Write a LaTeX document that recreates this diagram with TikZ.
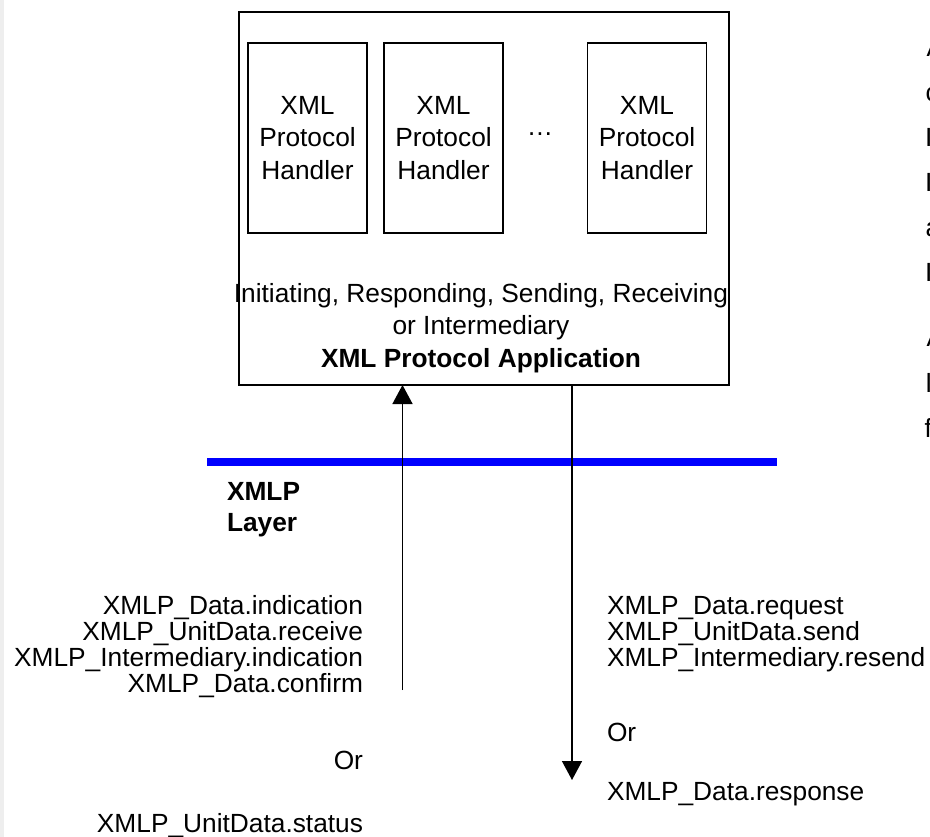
\documentclass[tikz,border=0pt]{standalone}
\usepackage{fontspec}
\setmainfont{Liberation Sans}
\usetikzlibrary{arrows.meta}
\definecolor{layerblue}{RGB}{0,0,255}
\definecolor{edgegray}{RGB}{238,238,238}
\begin{document}
\begin{tikzpicture}[x=1pt,y=-1pt,
  every node/.style={inner sep=0pt, outer sep=0pt, font=\fontsize{26.3}{26}\selectfont},
  frame/.style={draw=black, line width=1.6pt},
  handler/.style={frame, minimum width=119pt, minimum height=190pt, align=center,
                  font=\fontsize{26.3}{32.5}\selectfont},
  conn/.style={draw=black, line width=1.5pt, -{Triangle[width=20pt,length=19pt]}},
  leftlbl/.style={anchor=base east},
  rightlbl/.style={anchor=base west},
  midline/.style={anchor=base},
  cutoff/.style={anchor=base west},
  boldtext/.style={font=\fontsize{26.3}{26}\selectfont\bfseries},
]
\useasboundingbox (0,0) rectangle (930,837);
\fill[edgegray] (0,0) rectangle (4,837);

% application frame and its protocol handlers
\node[frame, minimum width=490pt, minimum height=373pt, anchor=north west] (app) at (239,12) {};
\node[handler, anchor=north west] (h1) at (248,43) {XML\\Protocol\\Handler};
\node[handler, anchor=north west] (h2) at (384,43) {XML\\Protocol\\Handler};
\node[handler, anchor=north west] (h3) at (587.5,43) {XML\\Protocol\\Handler};
\node[midline] (dots) at (540,136) {…};

\node[midline] (role1) at (481,303) {Initiating, Responding, Sending, Receiving};
\node[midline] (role2) at (481,335) {or Intermediary};
\node[midline, boldtext] (role3) at (481,367) {XML Protocol Application};

% layer boundary
\coordinate (layerL) at (207,462);
\coordinate (layerR) at (777,462);
\draw[layerblue, line width=8pt] (layerL) -- (layerR);
\node[anchor=base west, boldtext] (xmlp) at (227,500) {XMLP};
\node[anchor=base west, boldtext] (layer) at (227,531) {Layer};

% primitives crossing the layer
\coordinate (upfoot) at (402.5,690);
\coordinate (downtip) at (572,780);
\draw[conn] (upfoot) -- (app.south -| upfoot);
\draw[conn] (app.south -| downtip) -- (downtip);

% upward primitives
\node[leftlbl] (u1) at (363,614) {XMLP\_Data.indication};
\node[leftlbl] (u2) at (363,640) {XMLP\_UnitData.receive};
\node[leftlbl] (u3) at (363,666) {XMLP\_Intermediary.indication};
\node[leftlbl] (u4) at (363,692) {XMLP\_Data.confirm};
\node[leftlbl] (u5) at (363,769) {Or};
\node[leftlbl] (u6) at (363,832) {XMLP\_UnitData.status};

% downward primitives
\node[rightlbl] (d1) at (607,614) {XMLP\_Data.request};
\node[rightlbl] (d2) at (607,640) {XMLP\_UnitData.send};
\node[rightlbl] (d3) at (607,666) {XMLP\_Intermediary.resend};
\node[rightlbl] (d4) at (607,741) {Or};
\node[rightlbl] (d5) at (607,800) {XMLP\_Data.response};

% text running off the right edge
\node[cutoff] (c1) at (926.5,57) {A};
\node[cutoff] (c2) at (925.5,102) {c};
\node[cutoff] (c3) at (925,147) {I};
\node[cutoff] (c4) at (925,192) {I};
\node[cutoff] (c5) at (925.5,237) {a};
\node[cutoff] (c6) at (925,282) {I};
\node[cutoff] (c7) at (926.5,347) {A};
\node[cutoff] (c8) at (925.8,392) {l};
\node[cutoff] (c9) at (924.6,437) {f};
\end{tikzpicture}
\end{document}
